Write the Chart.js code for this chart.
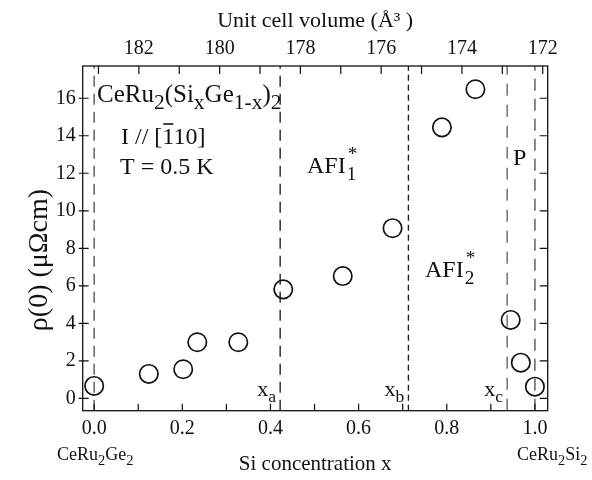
<!DOCTYPE html>
<html>
<head>
<meta charset="utf-8">
<script src="https://cdn.jsdelivr.net/npm/chart.js@4.4.1/dist/chart.umd.min.js"></script>
<style>
  html, body { margin: 0; padding: 0; background: #fff; }
  #wrap { width: 592px; height: 480px; }
</style>
</head>
<body>
<div id="wrap"><canvas id="rhoChart" width="592" height="480"></canvas></div>
<script>
// residual resistivity rho(0) (uOhm cm) vs Si concentration x, T = 0.5 K
const siConc = [0.0, 0.124, 0.202, 0.234, 0.327, 0.429, 0.564, 0.677, 0.789, 0.865, 0.945, 0.968, 1.0];
const rho0 = [0.66, 1.30, 1.55, 2.99, 2.99, 5.81, 6.52, 9.07, 14.45, 16.48, 4.18, 1.90, 0.62];

// phase boundaries x_a, x_b, x_c and the two end compounds
const phaseBounds = [0.422, 0.713, 0.937];
const phaseNames = ['a', 'b', 'c'];
const endCompounds = [0.0, 1.0];

// tick values
const xMajor = [0.0, 0.2, 0.4, 0.6, 0.8, 1.0];
const xMinor = [0.1, 0.3, 0.5, 0.7, 0.9];
const yMajor = [0, 2, 4, 6, 8, 10, 12, 14, 16];
const volMajor = [182, 180, 178, 176, 174, 172];
const volMinor = [183, 181, 179, 177, 175, 173];

// unit cell volume (A^3) is linear in x
const volAtX0 = 183.107;
const volPerX = -10.914;
const volAt = x => volAtX0 + volPerX * x;

const xMin = -0.026, xMax = 1.029;
const yMin = -0.66, yMax = 17.72;

const SERIF = '"Liberation Serif", "Times New Roman", serif';
const INK = '#111';

function hasValue(list, v) {
  return list.some(t => Math.abs(t - v) < 1e-6);
}

function setTicks(major, minor) {
  return scale => {
    scale.ticks = major.concat(minor).sort((a, b) => a - b).map(v => ({ value: v }));
  };
}

// draws text with sub/superscripts: parts = [[text, kind], ...]
function drawRich(ctx, x, y, parts, size, subScale) {
  const k = subScale || 0.8;
  let cx = x;
  ctx.textBaseline = 'alphabetic';
  ctx.textAlign = 'left';
  for (const [txt, kind] of parts) {
    let s = size, dy = 0;
    if (kind === 'sub') { s = size * k; dy = size * 0.28; }
    if (kind === 'sup') { s = size * k; dy = -size * 0.45; }
    ctx.font = s + 'px ' + SERIF;
    ctx.fillText(txt, cx, y + dy);
    cx += ctx.measureText(txt).width;
  }
  return cx;
}

// label like AFI with a stacked subscript and asterisk
function drawPhase(ctx, x, y, base, sub, size) {
  ctx.font = size + 'px ' + SERIF;
  ctx.textAlign = 'left';
  ctx.textBaseline = 'alphabetic';
  ctx.fillText(base, x, y);
  const cx = x + ctx.measureText(base).width + 1;
  ctx.font = (size * 0.8) + 'px ' + SERIF;
  ctx.fillText(sub, cx, y + size * 0.3);
  ctx.fillText('*', cx + 1, y - size * 0.55);
}

const frameAndText = {
  id: 'frameAndText',
  afterDraw(chart) {
    const { ctx, chartArea: a, scales } = chart;
    ctx.save();
    ctx.strokeStyle = INK;
    ctx.fillStyle = INK;

    // frame
    ctx.lineWidth = 1.3;
    ctx.strokeRect(a.left, a.top, a.right - a.left, a.bottom - a.top);

    // inward tick marks
    ctx.lineWidth = 1.2;
    ctx.beginPath();
    for (const t of scales.x.ticks) {
      const px = scales.x.getPixelForValue(t.value);
      ctx.moveTo(px, a.bottom);
      ctx.lineTo(px, a.bottom - 7);
    }
    for (const t of scales.x2.ticks) {
      const px = scales.x2.getPixelForValue(t.value);
      ctx.moveTo(px, a.top);
      ctx.lineTo(px, a.top + 8);
    }
    for (const t of scales.y.ticks) {
      const py = scales.y.getPixelForValue(t.value);
      ctx.moveTo(a.left - 4, py);
      ctx.lineTo(a.left + 6, py);
      ctx.moveTo(a.right, py);
      ctx.lineTo(a.right - 8, py);
    }
    ctx.stroke();

    // annotations inside the plot
    drawRich(ctx, 97, 102, [['CeRu', ''], ['2', 'sub'], ['(Si', ''], ['x', 'sub'], ['Ge', ''], ['1-x', 'sub'], [')', ''], ['2', 'sub']], 25, 0.86);
    const endI = drawRich(ctx, 121, 144, [['I // [', '']], 24);
    ctx.font = '24px ' + SERIF;
    const oneW = ctx.measureText('1').width;
    ctx.fillText('110]', endI, 144);
    ctx.beginPath();
    ctx.lineWidth = 1.6;
    ctx.moveTo(endI + 1, 124);
    ctx.lineTo(endI + oneW - 1, 124);
    ctx.stroke();
    drawRich(ctx, 120, 174, [['T = 0.5 K', '']], 24);

    drawPhase(ctx, 307, 173, 'AFI', '1', 24);
    drawPhase(ctx, 425, 277, 'AFI', '2', 24);
    drawRich(ctx, 513, 165, [['P', '']], 24);

    // boundary labels sit just left of their dashed lines
    phaseBounds.forEach((b, i) => {
      const px = scales.x.getPixelForValue(b);
      ctx.font = '22px ' + SERIF;
      const w = ctx.measureText('x').width;
      ctx.font = (22 * 0.8) + 'px ' + SERIF;
      const ws = ctx.measureText(phaseNames[i]).width;
      drawRich(ctx, px - 4 - w - ws, 396, [['x', ''], [phaseNames[i], 'sub']], 22);
    });

    // end compounds under the x axis
    drawRich(ctx, 57, 460, [['CeRu', ''], ['2', 'sub'], ['Ge', ''], ['2', 'sub']], 18);
    drawRich(ctx, 517, 460, [['CeRu', ''], ['2', 'sub'], ['Si', ''], ['2', 'sub']], 18);

    // y axis title
    ctx.save();
    ctx.translate(40, 260);
    ctx.rotate(-Math.PI / 2);
    ctx.font = '28px ' + SERIF;
    ctx.textAlign = 'center';
    ctx.textBaseline = 'middle';
    ctx.fillText('\u03C1(0) (\u03BC\u03A9cm)', 0, 0);
    ctx.restore();

    ctx.restore();
  }
};

const pointData = siConc.map((x, i) => ({ x: x, y: rho0[i] }));

function vLine(x, color, dash) {
  return {
    type: 'line',
    data: [{ x: x, y: yMin }, { x: x, y: yMax }],
    borderColor: color,
    borderWidth: 1.4,
    borderDash: dash,
    pointRadius: 0,
    showLine: true,
    fill: false,
    order: 2
  };
}

const datasets = [
  {
    type: 'scatter',
    data: pointData,
    pointStyle: 'circle',
    pointRadius: 9.2,
    pointBorderWidth: 1.7,
    borderColor: INK,
    backgroundColor: 'rgba(0,0,0,0)',
    order: 1
  },
  vLine(endCompounds[0], '#555', [11, 7]),
  vLine(endCompounds[1], '#555', [12, 8]),
  vLine(phaseBounds[0], '#222', [11, 7]),
  vLine(phaseBounds[1], '#222', [6, 4]),
  vLine(phaseBounds[2], '#666', [12, 9])
];

const tickFont = { family: SERIF, size: 20 };

new Chart(document.getElementById('rhoChart'), {
  type: 'scatter',
  data: { datasets: datasets },
  options: {
    responsive: false,
    animation: false,
    devicePixelRatio: 1,
    layout: { padding: { left: 0, right: 44.3, top: 0, bottom: 0 } },
    plugins: { legend: { display: false }, tooltip: { enabled: false } },
    scales: {
      x: {
        type: 'linear',
        position: 'bottom',
        min: xMin,
        max: xMax,
        afterBuildTicks: setTicks(xMajor, xMinor),
        afterFit: s => { s.height = 69.3; },
        grid: { display: false, drawTicks: false },
        border: { display: false },
        ticks: {
          color: INK,
          font: tickFont,
          padding: 6,
          maxRotation: 0,
          autoSkip: false,
          callback: v => hasValue(xMajor, v) ? v.toFixed(1) : ''
        },
        title: {
          display: true,
          text: 'Si concentration x',
          color: INK,
          font: { family: SERIF, size: 21 },
          padding: { top: 0, bottom: 3 }
        }
      },
      x2: {
        type: 'linear',
        position: 'top',
        reverse: true,
        min: volAt(xMax),
        max: volAt(xMin),
        afterBuildTicks: setTicks(volMajor, volMinor),
        afterFit: s => { s.height = 66; },
        grid: { display: false, drawTicks: false },
        border: { display: false },
        ticks: {
          color: INK,
          font: tickFont,
          padding: 5,
          maxRotation: 0,
          autoSkip: false,
          callback: v => hasValue(volMajor, v) ? String(v) : ''
        },
        title: {
          display: true,
          text: 'Unit cell volume (\u00C5\u00B3 )',
          color: INK,
          font: { family: SERIF, size: 22 },
          padding: { top: 8, bottom: 0 }
        }
      },
      y: {
        type: 'linear',
        position: 'left',
        min: yMin,
        max: yMax,
        afterBuildTicks: setTicks(yMajor, []),
        afterFit: s => { s.width = 82.7; },
        grid: { display: false, drawTicks: false },
        border: { display: false },
        ticks: {
          color: INK,
          font: tickFont,
          padding: 7,
          autoSkip: false
        }
      }
    }
  },
  plugins: [frameAndText]
});
</script>
</body>
</html>
